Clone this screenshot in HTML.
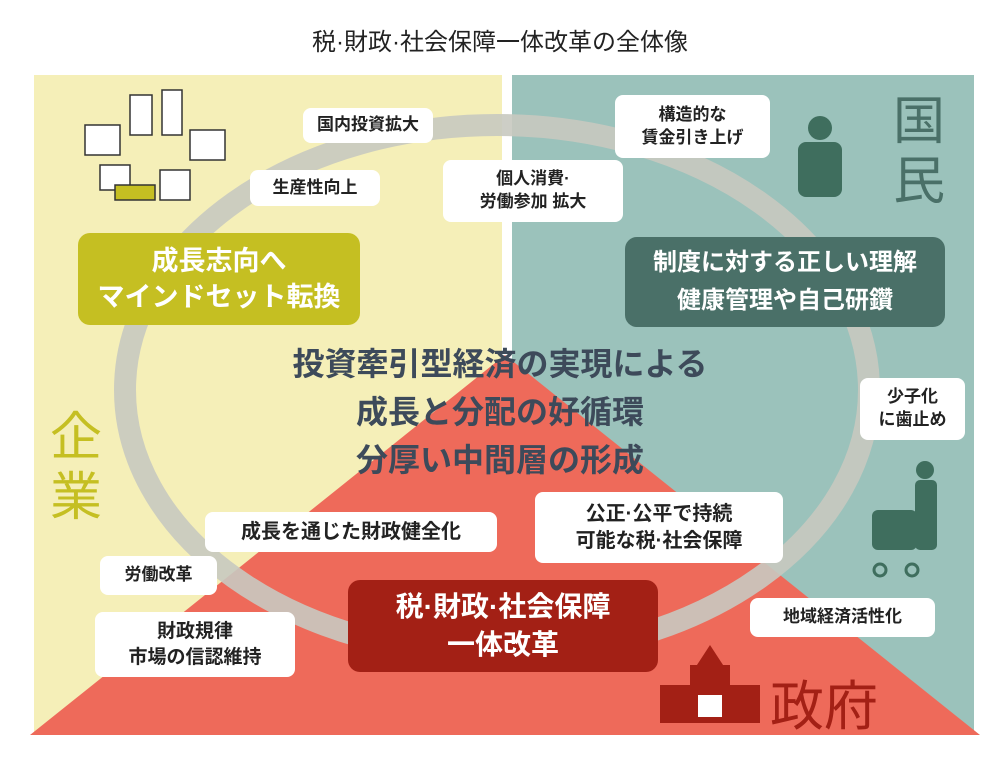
<!DOCTYPE html>
<html><head><meta charset="utf-8"><style>
body{margin:0;width:1000px;height:760px;background:#fff;position:relative;overflow:hidden;font-family:"Liberation Sans","Noto Sans CJK JP",sans-serif}
.a{position:absolute}
.b{position:absolute;background:#fff;border-radius:8px;color:#222;font-weight:bold;font-size:17px;display:flex;align-items:center;justify-content:center;text-align:center;line-height:1.35}
</style></head><body>
<div class="a" style="left:0;top:22px;width:1000px;text-align:center;font-size:24px;color:#222">税·財政·社会保障一体改革の全体像</div>
<svg class="a" style="left:0;top:0" width="1000" height="760">
<rect x="34" y="75" width="468" height="657" fill="#f5efb8"/>
<rect x="512" y="75" width="462" height="657" fill="#9bc2bb"/>
<polygon points="505,355 30,735 980,735" fill="#ee6a5a"/>
<ellipse cx="497" cy="390" rx="372" ry="265" fill="none" stroke="#c8c9c0" stroke-width="22" opacity="0.9"/>
<g fill="#fff" stroke="#333" stroke-width="1.5">
<rect x="130" y="95" width="22" height="40"/><rect x="162" y="90" width="20" height="45"/>
<rect x="85" y="125" width="35" height="30"/><rect x="190" y="130" width="35" height="30"/>
<rect x="100" y="165" width="30" height="25"/><rect x="160" y="170" width="30" height="30"/>
<rect x="115" y="185" width="40" height="15" fill="#c5bf22"/>
</g>
<g fill="#3f6e5e"><circle cx="820" cy="128" r="12"/><rect x="798" y="142" width="44" height="55" rx="8"/></g>
<g fill="#3f6e5e"><circle cx="925" cy="470" r="9"/><rect x="915" y="480" width="22" height="70" rx="5"/>
<rect x="872" y="510" width="45" height="40" rx="6"/><circle cx="880" cy="570" r="6" fill="none" stroke="#3f6e5e" stroke-width="3"/><circle cx="912" cy="570" r="6" fill="none" stroke="#3f6e5e" stroke-width="3"/></g>
<g fill="#a32015"><rect x="660" y="685" width="100" height="38"/><rect x="690" y="665" width="40" height="25"/><polygon points="710,645 695,668 725,668"/></g>
<g fill="#fff"><rect x="698" y="695" width="24" height="22"/></g>
</svg>
<div class="b" style="left:303px;top:108px;width:130px;height:35px">国内投資拡大</div>
<div class="b" style="left:250px;top:170px;width:130px;height:36px">生産性向上</div>
<div class="b" style="left:615px;top:95px;width:155px;height:63px">構造的な<br>賃金引き上げ</div>
<div class="b" style="left:443px;top:160px;width:180px;height:62px">個人消費·<br>労働参加 拡大</div>
<div class="b" style="left:78px;top:233px;width:282px;height:92px;background:#c5bf22;color:#fff;font-size:27px;border-radius:12px">成長志向へ<br>マインドセット転換</div>
<div class="b" style="left:625px;top:237px;width:320px;height:90px;background:#4a7068;color:#fff;font-size:24px;border-radius:12px;line-height:1.6">制度に対する正しい理解<br>健康管理や自己研鑽</div>
<div class="b" style="left:860px;top:378px;width:105px;height:62px">少子化<br>に歯止め</div>
<div class="b" style="left:205px;top:512px;width:292px;height:40px;font-size:20px">成長を通じた財政健全化</div>
<div class="b" style="left:535px;top:492px;width:248px;height:71px;font-size:20px">公正·公平で持続<br>可能な税·社会保障</div>
<div class="b" style="left:100px;top:556px;width:117px;height:39px">労働改革</div>
<div class="b" style="left:95px;top:612px;width:200px;height:65px;font-size:19px">財政規律<br>市場の信認維持</div>
<div class="b" style="left:348px;top:580px;width:310px;height:92px;background:#a32015;color:#fff;font-size:28px;border-radius:12px">税·財政·社会保障<br>一体改革</div>
<div class="b" style="left:750px;top:598px;width:185px;height:39px">地域経済活性化</div>
<div class="a" style="left:200px;top:340px;width:600px;text-align:center;font-weight:bold;font-size:32px;line-height:48px;color:#3d4a5a">投資牽引型経済の実現による<br>成長と分配の好循環<br>分厚い中間層の形成</div>
<div class="a" style="left:893px;top:92px;font-size:52px;line-height:60px;color:#4a7068;width:60px">国<br>民</div>
<div class="a" style="left:50px;top:408px;font-size:52px;line-height:60px;color:#c5bf22;width:60px">企<br>業</div>
<div class="a" style="left:770px;top:662px;font-size:54px;color:#a32015;white-space:nowrap">政府</div>
</body></html>
